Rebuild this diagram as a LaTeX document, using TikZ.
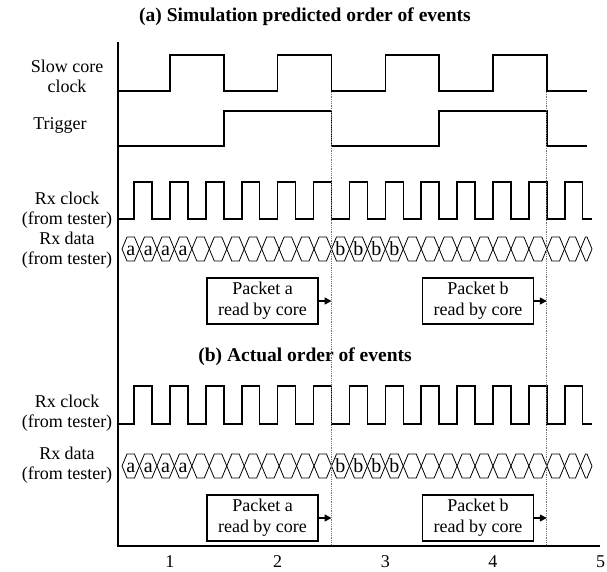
\documentclass[tikz,border=0pt]{standalone}
\usepackage{fontspec}
\setmainfont{Liberation Serif}
\usetikzlibrary{arrows.meta}

% one data cell row: #1 = vertical centre, #2 = prefix for the cell-letter nodes
\newcommand\drawbus[2]{%
  \foreach \a/\b in {122/139.46,139.46/156.92,156.92/174.38,174.38/191.83,
      191.83/209.29,209.29/226.75,226.75/244.21,244.21/261.67,261.67/279.13,
      279.13/296.58,296.58/314.04,314.04/331.5,331.5/349.44,349.44/367.38,
      367.38/385.33,385.33/403.27,403.27/421.21,421.21/439.15,439.15/457.09,
      457.09/475.04,475.04/492.98,492.98/510.92,510.92/528.86,528.86/546.8,
      546.8/564.5,564.5/580.5,580.5/592}{
    \draw[buscell] (\a,#1) -- (\a+5,#1-12) -- (\b-5,#1-12) -- (\b,#1)
      -- (\b-5,#1+12) -- (\a+5,#1+12) -- cycle;
  }
  \foreach \a/\b/\l [count=\i] in {122/139.46/a,139.46/156.92/a,156.92/174.38/a,
      174.38/191.83/a,331.5/349.44/b,349.44/367.38/b,367.38/385.33/b,385.33/403.27/b}{
    \node[celltxt] (#2\i) at ({(\a+\b)/2},#1+6) {\l};
  }
}

\begin{document}
\begin{tikzpicture}[x=1pt,y=-1pt,
  wave/.style={line width=1.5pt, line join=miter},
  axisline/.style={line width=1.8pt},
  buscell/.style={line width=0.8pt, line join=miter},
  marker/.style={densely dotted, line width=0.8pt, black!55},
  lbl/.style={font=\fontsize{18}{20}\selectfont, align=center, inner sep=0pt},
  ttl/.style={font=\fontsize{19.5}{24}\selectfont\bfseries, inner sep=0pt},
  readbox/.style={draw, line width=1.1pt, minimum width=111pt, minimum height=46pt,
    inner sep=0pt, align=center, font=\fontsize{18}{21}\selectfont},
  readarrow/.style={line width=1.5pt, -{Triangle[length=7pt,width=7pt]}},
  celltxt/.style={font=\fontsize{20}{22}\selectfont, inner sep=0pt, anchor=base},
  tick/.style={font=\fontsize{18}{20}\selectfont, inner sep=0pt}
]
\useasboundingbox (0,0) rectangle (607,571);

% titles
\node[ttl] (titleA) at (305,17) {(a) Simulation predicted order of events};
\node[ttl] (titleB) at (305,357) {(b) Actual order of events};

% signal names
\node[lbl] (nSlow)  at (67,76) {Slow core\\clock};
\node[lbl] (nTrig)  at (60,125) {Trigger};
\node[lbl] (nRxcA)  at (67,210) {Rx clock\\(from tester)};
\node[lbl] (nRxdA)  at (67,250) {Rx data\\(from tester)};
\node[lbl] (nRxcB)  at (67,413) {Rx clock\\(from tester)};
\node[lbl] (nRxdB)  at (67,465) {Rx data\\(from tester)};

% axes
\coordinate (axTop) at (118,42);
\coordinate (axOrigin) at (118,546);
\coordinate (axRight) at (600,546);
\draw[axisline] (axTop) -- (axOrigin) -- (axRight);
\foreach \t in {1,...,5}{
  \node[tick] (tick\t) at ({62.3+107.67*\t},562) {\t};
}

% slow core clock
\draw[wave] (118,91) -| (169.97,55) -| (223.8,91) -| (277.64,55) -| (331.5,91)
  -| (385.3,55) -| (439.1,91) -| (492.98,55) -| (546.8,91) -- (587,91);

% trigger
\draw[wave] (118,146) -| (223.8,111) -| (331.5,146) -| (439.1,111)
  -| (546.8,146) -- (587,146);

% tester clocks, three cycles per core cycle
\foreach \yl/\yh in {219/182, 424/386}{
  \draw[wave] (118,\yl)
    \foreach \k in {2,...,14}{
      -| ({62.3+107.67*\k/3},\yh) -| ({62.3+107.67*(\k/3+1/6)},\yl)
    } -- (592,\yl);
}

% tester data
\drawbus{249}{dA}
\drawbus{466}{dB}

% read-by-core boxes
\node[readbox] (pktA1) at (262.5,301) {Packet a\\read by core};
\node[readbox] (pktB1) at (478,301) {Packet b\\read by core};
\node[readbox] (pktA2) at (262.5,518) {Packet a\\read by core};
\node[readbox] (pktB2) at (478,518) {Packet b\\read by core};
\coordinate (hitA1) at (331.5,301);
\coordinate (hitB1) at (546.8,301);
\coordinate (hitA2) at (331.5,518);
\coordinate (hitB2) at (546.8,518);
\draw[readarrow] (pktA1.east) -- (hitA1);
\draw[readarrow] (pktB1.east) -- (hitB1);
\draw[readarrow] (pktA2.east) -- (hitA2);
\draw[readarrow] (pktB2.east) -- (hitB2);

% core falling edges that latch each packet
\coordinate (markA) at (331.5,92);
\coordinate (markAend) at (331.5,545);
\coordinate (markB) at (546.8,92);
\coordinate (markBend) at (546.8,545);
\draw[marker] (markA) -- (markAend);
\draw[marker] (markB) -- (markBend);
\end{tikzpicture}
\end{document}
